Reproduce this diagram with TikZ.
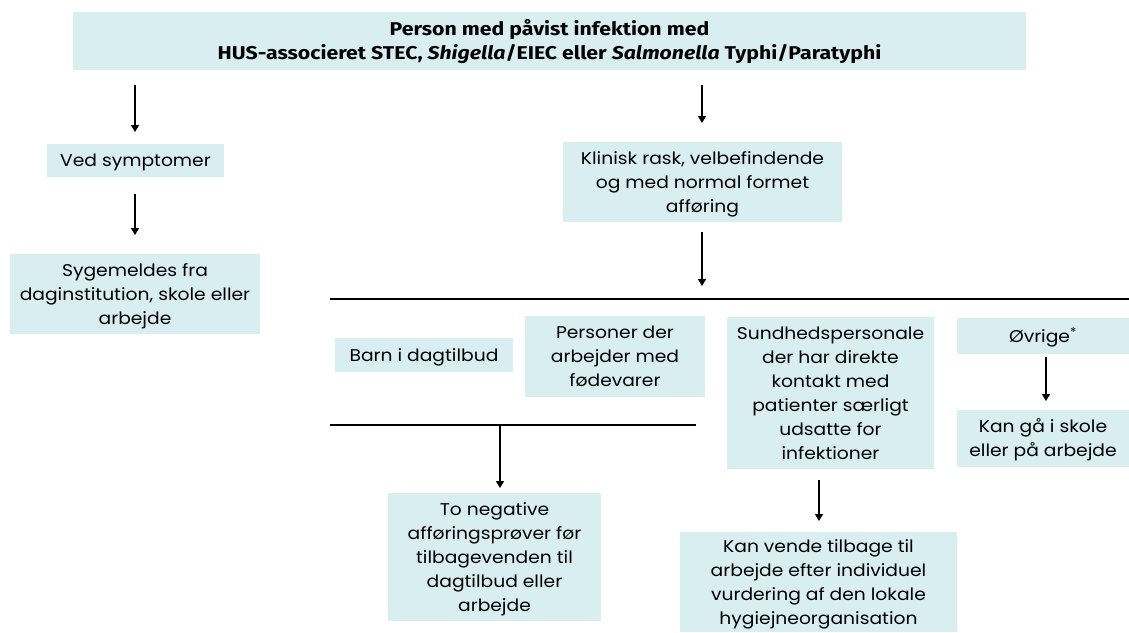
\documentclass[tikz,border=0pt]{standalone}
\usepackage{fontspec}
\setmainfont[FakeStretch=1.1]{Poppins}
\newfontfamily\titlefont[FakeStretch=1.15]{Fira Sans}
\usetikzlibrary{arrows.meta}
\definecolor{boxfill}{HTML}{D8EEF1}
\newcommand\bxt[1]{\raisebox{-1.5pt}[\height][\depth]{\begin{tabular}{@{}c@{}}#1\end{tabular}}}
\begin{document}
\begin{tikzpicture}[x=1pt,y=-1pt,
  bx/.style={fill=boxfill, inner sep=0pt, font=\fontsize{17}{24}\selectfont},
  arr/.style={draw, line width=1.2pt, -{Triangle[width=8pt,length=7pt]}},
  rule/.style={draw, line width=1.2pt}]
\useasboundingbox (0,0) rectangle (1129,632);
% boxes
\node[bx, minimum width=953pt, minimum height=58pt, font=\titlefont\bfseries\fontsize{18.5}{24}\selectfont] (title) at (549.5,41)
  {\bxt{Person med påvist infektion med\\HUS-associeret STEC, \textit{Shigella}/EIEC eller \textit{Salmonella} Typhi/Paratyphi}};
\node[bx, minimum width=177pt, minimum height=33pt] (ved) at (135.5,160.5) {\bxt{Ved symptomer}};
\node[bx, minimum width=250pt, minimum height=80pt] (syg) at (135,294) {\bxt{Sygemeldes fra\\daginstitution, skole eller\\arbejde}};
\node[bx, minimum width=279pt, minimum height=80pt] (klin) at (702.5,182) {\bxt{Klinisk rask, velbefindende\\og med normal formet\\afføring}};
\node[bx, minimum width=178pt, minimum height=34pt] (barn) at (424,355) {\bxt{Barn i dagtilbud}};
\node[bx, minimum width=180pt, minimum height=81pt] (pers) at (615,356.5) {\bxt{Personer der\\arbejder med\\fødevarer}};
\node[bx, minimum width=207pt, minimum height=152pt] (sund) at (830.5,393) {\bxt{Sundhedspersonale\\der har direkte\\kontakt med\\patienter særligt\\udsatte for\\infektioner}};
\node[bx, minimum width=172pt, minimum height=36pt] (ovr) at (1043,336) {\bxt{Øvrige\textsuperscript{*}}};
\node[bx, minimum width=172pt, minimum height=57pt] (kang) at (1043,438.5) {\bxt{Kan gå i skole\\eller på arbejde}};
\node[bx, minimum width=213pt, minimum height=128pt] (neg) at (494.5,557) {\bxt{To negative\\afføringsprøver før\\tilbagevenden til\\dagtilbud eller\\arbejde}};
\node[bx, minimum width=277pt, minimum height=100pt] (kanv) at (818.5,582) {\bxt{Kan vende tilbage til\\arbejde efter individuel\\vurdering af den lokale\\hygiejneorganisation}};
% rules
\coordinate (r1a) at (330,299); \coordinate (r1b) at (1129,299);
\coordinate (r2a) at (330,425); \coordinate (r2b) at (696,425);
\draw[rule] (r1a) -- (r1b);
\draw[rule] (r2a) -- (r2b);
% arrow coordinates
\coordinate (a1s) at (135,85);  \coordinate (a1e) at (135,132);
\coordinate (a2s) at (702,85);  \coordinate (a2e) at (702,123);
\coordinate (a3s) at (135,194); \coordinate (a3e) at (135,235);
\coordinate (a4s) at (702,232); \coordinate (a4e) at (702,286);
\coordinate (a5s) at (1046,357); \coordinate (a5e) at (1046,401);
\coordinate (a6s) at (500,425); \coordinate (a6e) at (500,488);
\coordinate (a7s) at (819,480); \coordinate (a7e) at (819,521);
\draw[arr] (a1s) -- (a1e);
\draw[arr] (a2s) -- (a2e);
\draw[arr] (a3s) -- (a3e);
\draw[arr] (a4s) -- (a4e);
\draw[arr] (a5s) -- (a5e);
\draw[arr] (a6s) -- (a6e);
\draw[arr] (a7s) -- (a7e);
\end{tikzpicture}
\end{document}
